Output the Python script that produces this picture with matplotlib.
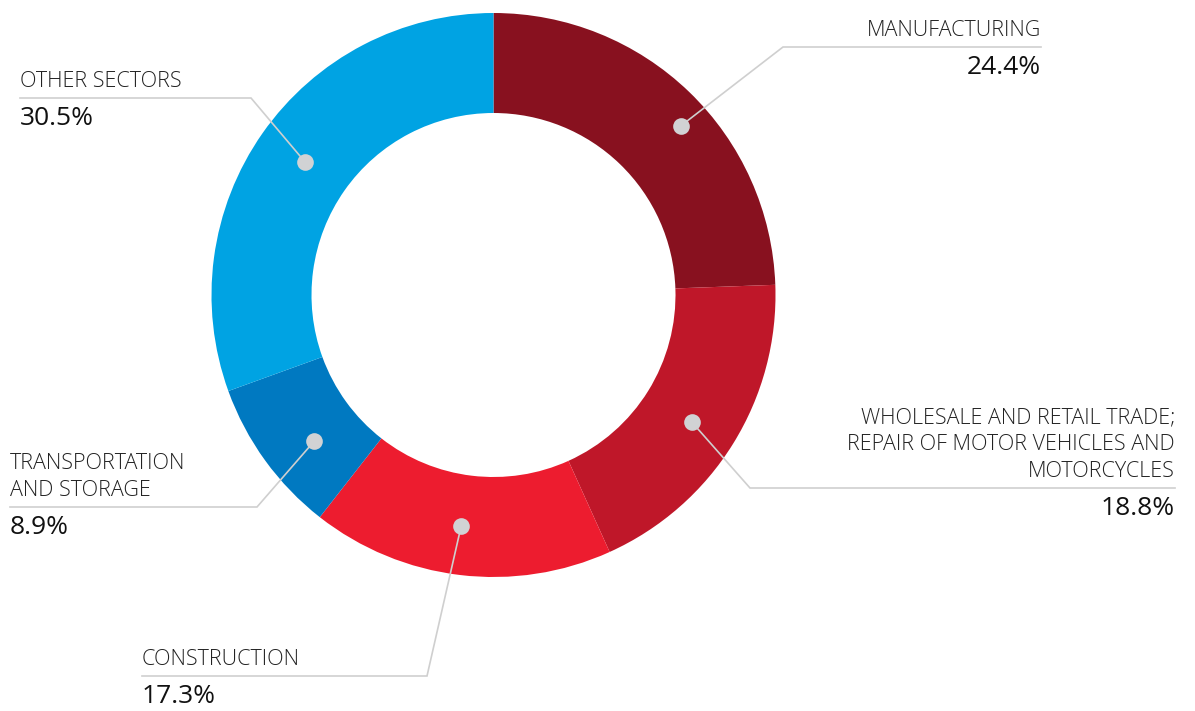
import matplotlib
matplotlib.use("Agg")
import matplotlib.pyplot as plt
import numpy as np

# sector shares, clockwise from 12 o'clock
sectors = ["MANUFACTURING",
           "WHOLESALE AND RETAIL TRADE;\nREPAIR OF MOTOR VEHICLES AND\nMOTORCYCLES",
           "CONSTRUCTION",
           "TRANSPORTATION\nAND STORAGE",
           "OTHER SECTORS"]
shares = [24.4, 18.8, 17.3, 8.9, 30.5]
colors = ["#88111f", "#bf1729", "#ed1c2f", "#0079c1", "#00a3e3"]

W, H = 1195, 711
fig = plt.figure(figsize=(W / 100, H / 100), dpi=100)
ax = fig.add_axes([0, 0, 1, 1])

cx, cy = 493.5, H - 295
R, r_in = 282, 182

ax.pie(shares, colors=colors, startangle=90, counterclock=False,
       center=(cx, cy), radius=R, frame=True,
       wedgeprops=dict(width=R - r_in, linewidth=0))
ax.set_xlim(0, W)
ax.set_ylim(0, H)
ax.set_aspect("equal")
ax.axis("off")

# leader elbow, line end, text side (pixel coords, y from top),
# plus small nudges of the dot (degrees, radius px)
leaders = [
    ((783, 47), 1041, "right", 4, 252),
    ((750, 488), 1175, "right", 1, 236),
    ((427, 676), 142, "left", 1.3, 233),
    ((257, 507), 10, "left", -3, 231),
    ((251, 98), 20, "left", 0.5, 231),
]

cum = np.cumsum([0] + shares[:-1])
line_c = "#cfcfcf"
for i, (name, val) in enumerate(zip(sectors, shares)):
    (ex, ey), end, side, nudge, rm = leaders[i]
    mid = np.deg2rad((cum[i] + val / 2) / 100 * 360 + nudge)
    dx, dy = cx + rm * np.sin(mid), cy + rm * np.cos(mid)
    ey = H - ey
    ax.plot([dx, ex, end], [dy, ey, ey], color=line_c, lw=1.2,
            solid_joinstyle="miter", zorder=3)
    ax.plot(dx, dy, "o", ms=12, color="#d1d2d4", mec="none", zorder=4)
    ax.text(end, ey + 6, name, ha=side, va="bottom", fontsize=15.5,
            family="Open Sans", fontweight="light", color="#222222",
            linespacing=1.35)
    ax.text(end, ey - 8, f"{val}%", ha=side, va="top", fontsize=19,
            family="Open Sans", color="#111111")

fig.savefig("out.png", dpi=100)
